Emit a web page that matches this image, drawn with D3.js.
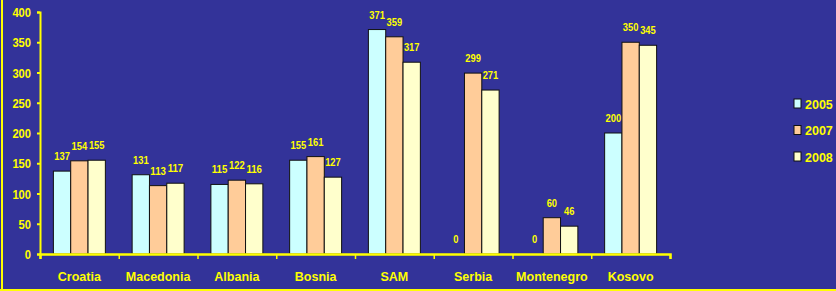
<!DOCTYPE html>
<html>
<head>
<meta charset="utf-8">
<script src="https://cdn.jsdelivr.net/npm/d3@7"></script>
<style>
  body { margin: 0; background: #333399; }
  svg { display: block; }
  .axis path, .axis line { stroke: #ffff00; }
  .axis text { fill: #ffff00; font-family: "Liberation Sans", Arial, sans-serif; font-weight: bold; }
  .vlabel { fill: #ffff00; font-family: "Liberation Sans", Arial, sans-serif; font-weight: bold; font-size: 11.5px; }
  .legend { fill: #ffff00; font-family: "Liberation Sans", Arial, sans-serif; font-weight: bold; font-size: 12.5px; }
</style>
</head>
<body>
<svg id="chart" width="836" height="291"></svg>
<script>
const countries = ["Croatia", "Macedonia", "Albania", "Bosnia", "SAM", "Serbia", "Montenegro", "Kosovo"];
const years = ["2005", "2007", "2008"];
const values2005 = [137, 131, 115, 155, 371, 0, 0, 200];
const values2007 = [154, 113, 122, 161, 359, 299, 60, 350];
const values2008 = [155, 117, 116, 127, 317, 271, 46, 345];
const yTicks = [0, 50, 100, 150, 200, 250, 300, 350, 400];
const colors = ["#ccffff", "#ffcc99", "#ffffcc"];

let series = [values2005, values2007, values2008];
let rows = [];
countries.forEach((c, i) => {
    years.forEach((y, j) => rows.push({country: c, year: y, value: series[j][i]}));
});

let g = d3.select("#chart");

// yellow frame on left and bottom
g.append("line").attr("x1", 2).attr("x2", 2).attr("y1", 0).attr("y2", 291)
    .attr("stroke", "#ffff00").attr("stroke-width", 2);
g.append("line").attr("x1", 0).attr("x2", 836).attr("y1", 290).attr("y2", 290)
    .attr("stroke", "#ffff00").attr("stroke-width", 2);

let xScale = d3.scaleBand().domain(countries).range([40, 670]).paddingInner(0.34).paddingOuter(0.17);
let xSub = d3.scaleBand().domain(years).range([0, xScale.bandwidth()]);
let yScale = d3.scaleLinear().domain([0, 400]).range([254, 12]);
let color = d3.scaleOrdinal().domain(years).range(colors);

// bars
g.selectAll("rect.bar").data(rows).join("rect")
    .attr("class", "bar")
    .attr("x", d => xScale(d.country) + xSub(d.year))
    .attr("y", d => yScale(d.value))
    .attr("width", xSub.bandwidth())
    .attr("height", d => yScale(0) - yScale(d.value))
    .attr("fill", d => color(d.year))
    .attr("stroke", "#111")
    .attr("stroke-width", 1);

// value labels
g.selectAll("text.vlabel").data(rows).join("text")
    .attr("class", "vlabel")
    .attr("text-anchor", "middle")
    .attr("x", d => xScale(d.country) + xSub(d.year) + xSub.bandwidth() / 2)
    .attr("y", d => yScale(d.value) - 11)
    .attr("textLength", d => String(d.value).length * 5.2)
    .attr("lengthAdjust", "spacingAndGlyphs")
    .text(d => d.value);

// y axis
let yAxis = d3.axisLeft(yScale).tickValues(yTicks).tickSize(3).tickPadding(6);
let y = g.append("g").attr("class", "axis").attr("transform", "translate(40,0)").call(yAxis);
y.select(".domain").attr("stroke-width", 2);
y.selectAll(".tick line").attr("stroke-width", 2);
y.selectAll("text").style("font-size", "13px").attr("dy", "0.36em")
    .attr("textLength", d => String(d).length * 6.2).attr("lengthAdjust", "spacingAndGlyphs");

// x axis: boundary ticks
let edge = d3.scaleLinear().domain([0, countries.length]).range([40, 670]);
let xTicks = d3.axisBottom(edge).ticks(countries.length).tickSizeOuter(5).tickSize(5).tickFormat("");
let xt = g.append("g").attr("class", "axis").attr("transform", "translate(0,254)").call(xTicks);
xt.select(".domain").attr("stroke-width", 2.5);
xt.selectAll(".tick line").attr("stroke-width", 1.5);

// x axis: category labels
let xAxis = d3.axisBottom(xScale).tickSize(0).tickPadding(18);
let x = g.append("g").attr("class", "axis").attr("transform", "translate(0,254)").call(xAxis);
x.select(".domain").remove();
x.selectAll("text").style("font-size", "12.5px");

// legend
let legend = g.selectAll("g.leg").data(years).join("g")
    .attr("class", "leg")
    .attr("transform", (d, i) => "translate(794," + (99 + i * 26.5) + ")");
legend.append("rect").attr("width", 7).attr("height", 9)
    .attr("fill", d => color(d)).attr("stroke", "#111").attr("stroke-width", 1);
legend.append("text").attr("class", "legend").attr("x", 11).attr("y", 9.5).text(d => d);
</script>
</body>
</html>
